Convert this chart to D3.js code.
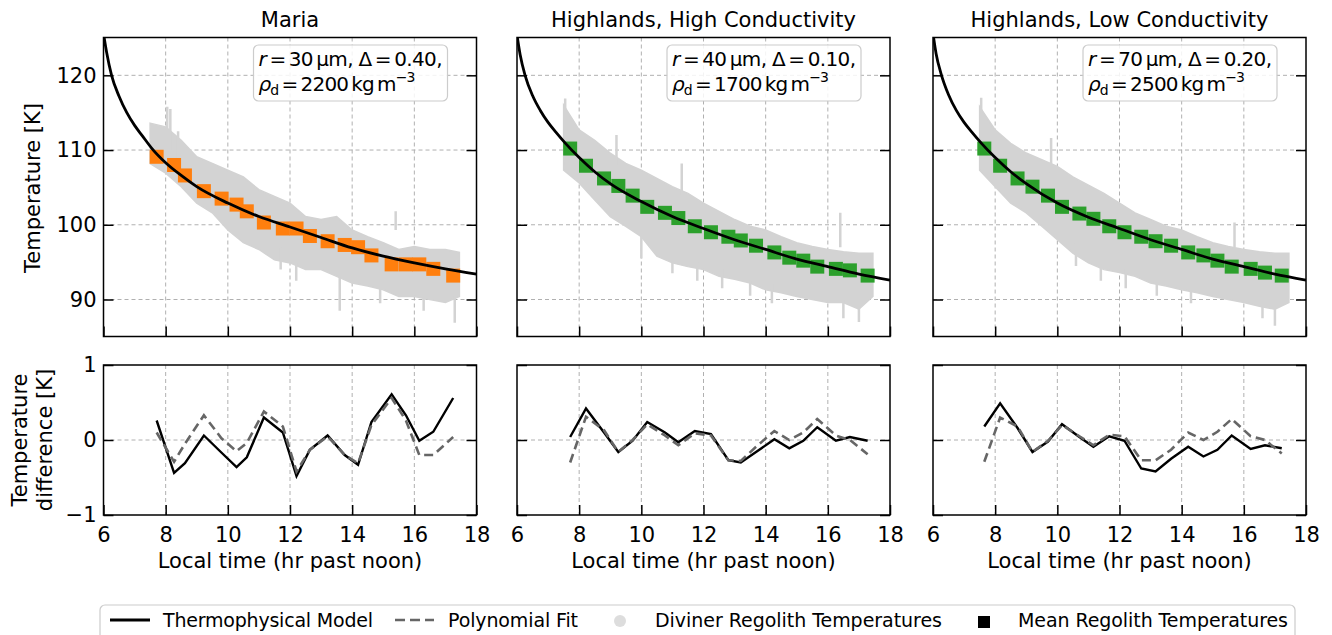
<!DOCTYPE html>
<html><head><meta charset="utf-8">
<script src="https://cdn.jsdelivr.net/npm/d3@7"></script>
<style>body{margin:0;background:#fff}svg{display:block}text{font-family:"DejaVu Sans",sans-serif;fill:#000}</style>
</head><body><svg id="c" width="1332" height="635"></svg>
<script>
// ---------- data ----------
const panelTitles = ["Maria", "Highlands, High Conductivity", "Highlands, Low Conductivity"];
const hourTicks = [6, 8, 10, 12, 14, 16, 18];
const tempTicks = [90, 100, 110, 120];
const diffTicks = [-1, 0, 1];
const diffTickLabels = ["\u22121", "0", "1"];
const meanColors = ["#ff7f0e", "#2ca02c", "#2ca02c"];
const paramRadius = ["30", "40", "70"];
const paramDelta = ["0.40", "0.10", "0.20"];
const paramDensity = ["2200", "1700", "2500"];

// mean regolith temperatures (squares) and residuals
const timesMaria = [7.71, 8.27, 8.62, 9.23, 9.80, 10.28, 10.61, 11.16, 11.77, 12.21, 12.64, 13.21, 13.76, 14.19, 14.62, 15.27, 15.73, 16.16, 16.61, 17.25];
const meanMaria = [109.1, 108.0, 106.6, 104.5, 103.5, 102.7, 101.8, 100.3, 99.5, 99.5, 98.5, 97.8, 97.3, 97.0, 95.9, 94.7, 94.7, 94.7, 94.1, 93.2];
const diffModelMaria = [0.26, -0.44, -0.31, 0.06, -0.17, -0.36, -0.23, 0.30, 0.10, -0.48, -0.13, 0.06, -0.20, -0.33, 0.24, 0.61, 0.33, -0.01, 0.11, 0.56];
const diffPolyMaria = [0.10, -0.29, -0.05, 0.33, 0.02, -0.15, -0.04, 0.38, 0.18, -0.42, -0.13, 0.05, -0.20, -0.31, 0.20, 0.56, 0.26, -0.20, -0.20, 0.04];

const timesHHC = [7.71, 8.22, 8.80, 9.26, 9.72, 10.19, 10.76, 11.19, 11.72, 12.24, 12.80, 13.20, 13.69, 14.28, 14.76, 15.21, 15.66, 16.26, 16.71, 17.28];
const meanHHC = [110.2, 107.9, 106.2, 105.2, 103.9, 102.4, 101.6, 100.9, 99.8, 99.0, 98.4, 97.9, 97.2, 96.3, 95.6, 95.2, 94.4, 94.1, 93.9, 93.2];
const diffModelHHC = [0.04, 0.42, 0.10, -0.16, -0.01, 0.24, 0.10, -0.03, 0.12, 0.08, -0.27, -0.30, -0.16, 0.01, -0.11, -0.01, 0.17, -0.01, 0.04, -0.01];
const diffPolyHHC = [-0.30, 0.31, 0.13, -0.16, 0.00, 0.21, 0.06, -0.07, 0.09, 0.06, -0.27, -0.28, -0.09, 0.12, 0.00, 0.10, 0.28, 0.06, 0.00, -0.19];

const timesHLC = [7.65, 8.16, 8.72, 9.20, 9.70, 10.15, 10.71, 11.16, 11.67, 12.16, 12.70, 13.16, 13.66, 14.21, 14.70, 15.15, 15.61, 16.22, 16.68, 17.22];
const meanHLC = [110.2, 107.9, 106.2, 105.1, 103.9, 102.4, 101.5, 100.8, 99.8, 99.0, 98.4, 97.8, 97.2, 96.3, 95.9, 95.2, 94.4, 94.1, 93.6, 93.2];
const diffModelHLC = [0.18, 0.49, 0.16, -0.16, -0.02, 0.21, 0.04, -0.09, 0.05, -0.01, -0.38, -0.42, -0.25, -0.09, -0.22, -0.13, 0.06, -0.12, -0.07, -0.11];
const diffPolyHLC = [-0.29, 0.30, 0.18, -0.16, -0.01, 0.20, 0.05, -0.07, 0.07, 0.05, -0.27, -0.27, -0.13, 0.10, 0.00, 0.11, 0.28, 0.05, 0.00, -0.18];

// thermophysical model curves
const modelTimes = [6.0, 6.1, 6.26, 6.5, 6.75, 7.0, 7.25, 7.56, 8.0, 8.5, 9.0, 10, 11, 12, 13, 14, 15, 16, 17, 18];
const modelMaria = [125.6, 123.1, 120.0, 117.2, 115.0, 113.3, 111.9, 110.2, 108.3, 106.6, 105.1, 102.9, 101.1, 99.7, 98.3, 96.9, 95.8, 94.9, 94.1, 93.4];
const modelHHC = [125.4, 122.8, 120.0, 117.3, 115.3, 113.7, 112.4, 110.9, 109.0, 107.1, 105.5, 103.1, 101.1, 99.5, 98.0, 96.7, 95.4, 94.4, 93.4, 92.6];
const modelHLC = [125.6, 122.9, 120.2, 117.4, 115.3, 113.7, 112.4, 110.9, 109.0, 107.1, 105.5, 102.9, 101.0, 99.5, 98.0, 96.7, 95.4, 94.4, 93.4, 92.6];

// Diviner regolith temperature envelope (upper / lower)
const bandTimes = [7.5, 8.0, 8.5, 9.0, 9.5, 10.0, 10.5, 11.0, 11.5, 12.0, 12.5, 13.0, 13.5, 14.0, 14.5, 15.0, 15.5, 16.0, 16.5, 17.0, 17.45];
const bandUpperMaria = [113.6, 113.1, 111.3, 109.1, 108.2, 107.3, 106.4, 104.7, 103.8, 102.9, 101.1, 100.7, 101.1, 99.3, 98.4, 97.6, 96.7, 97.1, 96.7, 96.7, 96.3];
const bandLowerMaria = [108.2, 106.9, 105.1, 102.9, 101.6, 99.3, 97.6, 96.7, 95.3, 94.9, 94.0, 94.0, 93.1, 92.2, 91.8, 91.3, 90.4, 90.4, 90.0, 89.6, 90.4];
const bandUpperHHC = [116.0, 112.7, 111.3, 109.6, 108.2, 107.3, 106.2, 105.1, 104.2, 102.9, 101.8, 100.7, 99.8, 99.3, 98.4, 97.6, 97.1, 96.7, 96.4, 96.2, 96.2];
const bandLowerHHC = [107.3, 105.6, 103.3, 101.1, 99.8, 98.4, 95.8, 94.9, 94.4, 94.0, 93.1, 92.7, 92.2, 91.3, 90.9, 90.4, 90.0, 89.6, 89.6, 88.7, 90.4];
const bandUpperHLC = [115.8, 112.7, 110.9, 109.6, 108.7, 107.8, 106.4, 105.3, 104.2, 102.9, 101.6, 100.7, 99.8, 99.3, 98.4, 97.6, 97.1, 96.7, 96.4, 96.2, 96.2];
const bandLowerHLC = [107.3, 105.1, 102.9, 101.6, 99.8, 98.0, 96.2, 94.9, 94.0, 93.6, 93.1, 92.2, 91.8, 91.3, 90.9, 90.4, 90.0, 89.6, 89.1, 88.7, 89.6];

// individual streaks of Diviner points: [time, low, high]
const streaksMaria = [[8.05, 110, 115.8], [8.15, 110, 115.5], [8.4, 108, 112.5], [11.7, 94, 97], [13.6, 88.5, 93], [15.4, 99.3, 101.8], [17.3, 86.9, 90.5], [12.2, 92.5, 95], [14.9, 89.5, 91.5], [16.3, 88.5, 90.5]];
const streaksHHC = [[7.55, 110, 116.9], [9.2, 108, 112], [11.3, 104, 108.2], [16.4, 97, 101.6], [10.0, 95.5, 98.5], [11.0, 93.5, 96], [11.8, 92.5, 95], [12.6, 91.5, 94], [14.2, 89.5, 92], [16.5, 87.5, 90], [17.0, 87.0, 89], [13.5, 90.5, 92.5]];
const streaksHLC = [[7.55, 110, 117.0], [9.8, 107, 111.6], [10.6, 94.5, 97.5], [11.4, 92.5, 95], [12.2, 91.5, 94], [13.2, 90.5, 93], [15.7, 97, 100.3], [16.6, 87.5, 90], [17.0, 86.5, 89], [14.3, 89.5, 92]];

const legendLabels = ["Thermophysical Model", "Polynomial Fit", "Diviner Regolith Temperatures", "Mean Regolith Temperatures"];

// ---------- build ----------
const panels = [
  {title: panelTitles[0], color: meanColors[0], times: timesMaria, mean: meanMaria, dm: diffModelMaria, dp: diffPolyMaria, model: modelMaria, up: bandUpperMaria, lo: bandLowerMaria, streaks: streaksMaria, r: paramRadius[0], d: paramDelta[0], rho: paramDensity[0]},
  {title: panelTitles[1], color: meanColors[1], times: timesHHC, mean: meanHHC, dm: diffModelHHC, dp: diffPolyHHC, model: modelHHC, up: bandUpperHHC, lo: bandLowerHHC, streaks: streaksHHC, r: paramRadius[1], d: paramDelta[1], rho: paramDensity[1]},
  {title: panelTitles[2], color: meanColors[2], times: timesHLC, mean: meanHLC, dm: diffModelHLC, dp: diffPolyHLC, model: modelHLC, up: bandUpperHLC, lo: bandLowerHLC, streaks: streaksHLC, r: paramRadius[2], d: paramDelta[2], rho: paramDensity[2]}
];

const svg = d3.select("#c");
const FS = 21;
const panelX = [[103.5, 476.5], [517, 890], [933, 1306]];
const topRange = [336.5, 37.5];
const botRange = [515, 365];
const grey = "#d3d3d3";

panels.forEach((p, i) => {
  const [x0, x1] = panelX[i];
  const x = d3.scaleLinear().domain([6, 18]).range([x0, x1]);
  const yT = d3.scaleLinear().domain([85.05, 125.06]).range(topRange);
  const yB = d3.scaleLinear().domain([-1, 1]).range(botRange);
  const gridHours = hourTicks.slice(1, -1);

  const defs = svg.append("defs");
  defs.append("clipPath").attr("id", "ct" + i).append("rect")
    .attr("x", x0).attr("y", topRange[1]).attr("width", x1 - x0).attr("height", topRange[0] - topRange[1]);
  defs.append("clipPath").attr("id", "cb" + i).append("rect")
    .attr("x", x0).attr("y", botRange[1]).attr("width", x1 - x0).attr("height", botRange[0] - botRange[1]);

  // ---- TOP PANEL
  const gt = svg.append("g");
  const grid = gt.append("g").attr("stroke", "#b0b0b0").attr("stroke-width", 1).attr("stroke-dasharray", "4,3");
  grid.selectAll(".v").data(gridHours).join("line")
    .attr("x1", d => x(d)).attr("x2", d => x(d)).attr("y1", topRange[1]).attr("y2", topRange[0]);
  grid.selectAll(".h").data(tempTicks).join("line")
    .attr("x1", x0).attr("x2", x1).attr("y1", d => yT(d)).attr("y2", d => yT(d));

  const plot = gt.append("g").attr("clip-path", `url(#ct${i})`);
  const band = bandTimes.map((t, k) => ({t, u: p.up[k], l: p.lo[k]}));
  plot.append("path").datum(band)
    .attr("fill", grey).attr("stroke", grey).attr("stroke-width", 1.5)
    .attr("d", d3.area().x(d => x(d.t)).y0(d => yT(d.l)).y1(d => yT(d.u)));
  plot.append("g").selectAll("line").data(p.streaks).join("line")
    .attr("x1", d => x(d[0])).attr("x2", d => x(d[0]))
    .attr("y1", d => yT(d[1])).attr("y2", d => yT(d[2]))
    .attr("stroke", grey).attr("stroke-width", 2.5);

  const sq = 14;
  plot.append("g").selectAll("rect").data(p.times.map((t, k) => [t, p.mean[k]])).join("rect")
    .attr("x", d => x(d[0]) - sq / 2).attr("y", d => yT(d[1]) - sq / 2)
    .attr("width", sq).attr("height", sq).attr("fill", p.color);

  plot.append("path").datum(modelTimes.map((t, k) => [t, p.model[k]]))
    .attr("fill", "none").attr("stroke", "#000").attr("stroke-width", 2.8)
    .attr("d", d3.line().x(d => x(d[0])).y(d => yT(d[1])).curve(d3.curveMonotoneX));

  const bx = x0 + 150;
  gt.append("rect").attr("x", bx).attr("y", 45).attr("width", 194).attr("height", 56).attr("rx", 5)
    .attr("fill", "#fff").attr("fill-opacity", 0.85).attr("stroke", "#cccccc").attr("stroke-width", 1.2);
  const t1 = gt.append("text").attr("x", bx + 5).attr("y", 66).attr("font-size", 20)
    .attr("textLength", 184).attr("lengthAdjust", "spacing");
  t1.append("tspan").attr("font-style", "italic").text("r");
  t1.append("tspan").text("\u2009=\u2009" + p.r + "\u2009\u03bcm, \u0394\u2009=\u2009" + p.d + ",");
  const t2 = gt.append("text").attr("x", bx + 5).attr("y", 91).attr("font-size", 20)
    .attr("textLength", 157).attr("lengthAdjust", "spacing");
  t2.append("tspan").attr("font-style", "italic").text("\u03c1");
  t2.append("tspan").attr("font-size", 14).attr("dy", 4).text("d");
  t2.append("tspan").attr("dy", -4).text("\u2009=\u2009" + p.rho + "\u2009kg\u2009m");
  t2.append("tspan").attr("font-size", 14).attr("dy", -9).text("\u22123");

  const styleAxis = g => {
    g.select(".domain").remove();
    g.selectAll(".tick line").attr("stroke", "#000").attr("stroke-width", 1.5);
    g.selectAll(".tick text").attr("font-size", FS).attr("font-family", "DejaVu Sans").attr("fill", "#000");
  };
  gt.append("g").attr("transform", `translate(0,${topRange[0]})`)
    .call(d3.axisBottom(x).tickValues(hourTicks).tickSizeInner(-10).tickSizeOuter(0).tickFormat(""))
    .call(styleAxis);
  gt.append("g").attr("transform", `translate(${x0},0)`)
    .call(d3.axisLeft(yT).tickValues(tempTicks).tickSizeInner(-10).tickSizeOuter(0).tickPadding(7)
      .tickFormat(i === 0 ? d3.format("d") : () => ""))
    .call(styleAxis);
  gt.append("g").attr("transform", `translate(${x1},0)`)
    .call(d3.axisRight(yT).tickValues(tempTicks).tickSizeInner(-10).tickSizeOuter(0).tickFormat(""))
    .call(styleAxis);
  gt.append("rect").attr("x", x0).attr("y", topRange[1]).attr("width", x1 - x0).attr("height", topRange[0] - topRange[1])
    .attr("fill", "none").attr("stroke", "#000").attr("stroke-width", 1.5);

  gt.append("text").attr("x", (x0 + x1) / 2).attr("y", 27).attr("text-anchor", "middle")
    .attr("font-size", 21).text(p.title);

  // ---- BOTTOM PANEL
  const gb = svg.append("g");
  const gridB = gb.append("g").attr("stroke", "#b0b0b0").attr("stroke-width", 1).attr("stroke-dasharray", "4,3");
  gridB.selectAll(".v").data(gridHours).join("line")
    .attr("x1", d => x(d)).attr("x2", d => x(d)).attr("y1", botRange[1]).attr("y2", botRange[0]);
  gridB.selectAll(".h").data([0]).join("line")
    .attr("x1", x0).attr("x2", x1).attr("y1", d => yB(d)).attr("y2", d => yB(d));

  const plotB = gb.append("g").attr("clip-path", `url(#cb${i})`);
  const lineB = d3.line().x(d => x(d[0])).y(d => yB(d[1]));
  plotB.append("path").datum(p.times.map((t, k) => [t, p.dm[k]]))
    .attr("fill", "none").attr("stroke", "#000").attr("stroke-width", 2.4)
    .attr("d", lineB);
  plotB.append("path").datum(p.times.map((t, k) => [t, p.dp[k]]))
    .attr("fill", "none").attr("stroke", "#666").attr("stroke-width", 2.6).attr("stroke-dasharray", "9,5")
    .attr("d", lineB);

  gb.append("g").attr("transform", `translate(0,${botRange[0]})`)
    .call(d3.axisBottom(x).tickValues(hourTicks).tickSizeInner(-10).tickSizeOuter(0).tickPadding(12))
    .call(styleAxis);
  gb.append("g").attr("transform", `translate(${x0},0)`)
    .call(d3.axisLeft(yB).tickValues(diffTicks).tickSizeInner(-10).tickSizeOuter(0).tickPadding(7)
      .tickFormat((d, k) => i === 0 ? diffTickLabels[k] : ""))
    .call(styleAxis);
  gb.append("g").attr("transform", `translate(${x1},0)`)
    .call(d3.axisRight(yB).tickValues(diffTicks).tickSizeInner(-10).tickSizeOuter(0).tickFormat(""))
    .call(styleAxis);
  gb.append("rect").attr("x", x0).attr("y", botRange[1]).attr("width", x1 - x0).attr("height", botRange[0] - botRange[1])
    .attr("fill", "none").attr("stroke", "#000").attr("stroke-width", 1.5);

  gb.append("text").attr("x", (x0 + x1) / 2).attr("y", 568).attr("text-anchor", "middle")
    .attr("font-size", FS).text("Local time (hr past noon)");
});

svg.append("text").attr("transform", "translate(40,188) rotate(-90)").attr("text-anchor", "middle")
  .attr("font-size", FS).text("Temperature [K]");
svg.append("text").attr("transform", "translate(27,440) rotate(-90)").attr("text-anchor", "middle")
  .attr("font-size", FS).text("Temperature");
svg.append("text").attr("transform", "translate(52,440) rotate(-90)").attr("text-anchor", "middle")
  .attr("font-size", FS).text("difference [K]");

// ---------- legend ----------
const lg = svg.append("g");
lg.append("rect").attr("x", 100).attr("y", 605).attr("width", 1195).attr("height", 45).attr("rx", 5)
  .attr("fill", "#fff").attr("stroke", "#cccccc").attr("stroke-width", 1.2);
const ly = 620;
lg.append("line").attr("x1", 110).attr("x2", 150).attr("y1", ly).attr("y2", ly).attr("stroke", "#000").attr("stroke-width", 2.8);
lg.append("line").attr("x1", 395).attr("x2", 434).attr("y1", ly).attr("y2", ly).attr("stroke", "#666").attr("stroke-width", 2.6).attr("stroke-dasharray", "10,5");
lg.append("circle").attr("cx", 620).attr("cy", ly + 1).attr("r", 6).attr("fill", "#dddddd");
lg.append("rect").attr("x", 978).attr("y", ly - 4).attr("width", 12).attr("height", 12).attr("fill", "#000");
const legX = [163, 448, 655, 1018];
const legW = [210, 130, 287, 270];
legendLabels.forEach((s, k) => {
  lg.append("text").attr("x", legX[k]).attr("y", 627).attr("font-size", 19)
    .attr("textLength", legW[k]).attr("lengthAdjust", "spacing").text(s);
});
</script></body></html>
